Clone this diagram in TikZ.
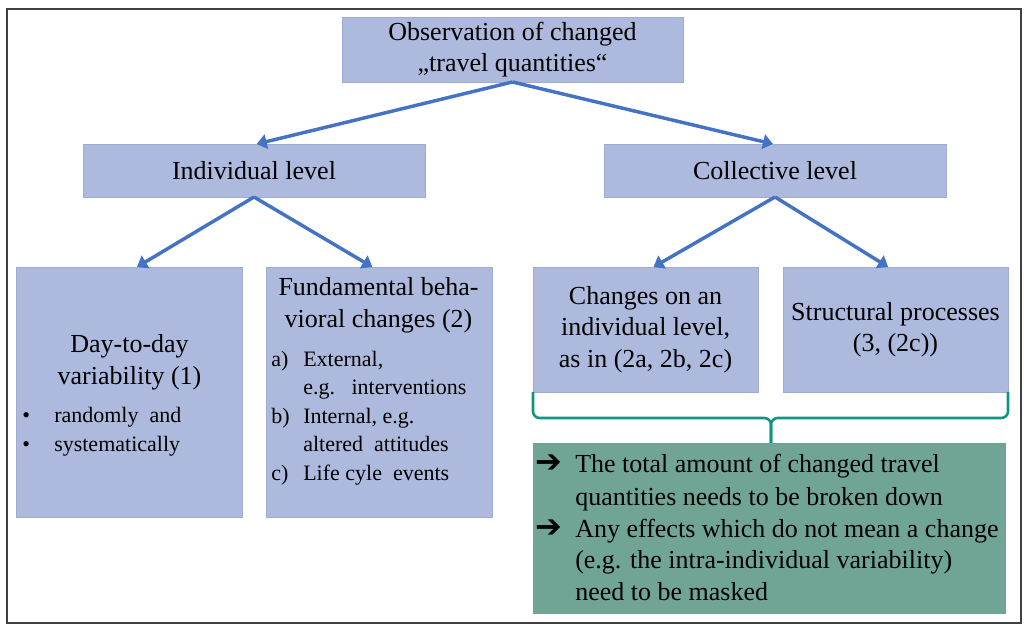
\documentclass[tikz,border=0pt]{standalone}
\usepackage{fontspec}
\setmainfont{Liberation Serif}
\newfontfamily\mainser{Liberation Serif}
\newfontfamily\arrowfnt{DejaVu Sans}
\usetikzlibrary{arrows.meta}
\definecolor{boxblue}{RGB}{173,186,222}
\definecolor{boxedge}{RGB}{158,172,210}
\definecolor{arrblue}{RGB}{68,114,196}
\definecolor{bracecol}{RGB}{16,150,128}
\definecolor{greenbox}{RGB}{112,165,150}
\begin{document}
\begin{tikzpicture}[x=0.75pt,y=-0.75pt,
  box/.style={rectangle, fill=boxblue, draw=boxedge, line width=0.6pt, inner sep=0pt, outer sep=0pt, align=center, font=\mainser\fontsize{19.5}{23.5}\selectfont},
  conn/.style={draw=arrblue, line width=2.6pt, -{Triangle[length=7.5pt,width=11pt]}},
  lst/.style={anchor=base west, inner sep=0pt, font=\mainser\fontsize{16.5}{20}\selectfont},
  hd/.style={anchor=base, inner sep=0pt, font=\mainser\fontsize{19.5}{23.5}\selectfont},
  gtxt/.style={anchor=base west, inner sep=0pt, font=\mainser\fontsize{19.5}{24}\selectfont},
  garr/.style={anchor=base west, inner sep=0pt, font=\arrowfnt\bfseries\fontsize{24}{26}\selectfont},
  bracestyle/.style={draw=bracecol, line width=1.9pt, rounded corners=5pt}
]
\useasboundingbox (0,0) rectangle (1024,630);
\draw[line width=1.2pt, draw=black!75] (7,9) rectangle (1021,623);

% boxes
\node[box, minimum width=255.75pt, minimum height=48.75pt] (top) at (512.5,49.5) {Observation of changed\\„travel quantities“};
\node[box, minimum width=256.5pt, minimum height=39.75pt] (ind) at (254,170.5) {Individual level};
\node[box, minimum width=256.5pt, minimum height=39.75pt] (col) at (775,170.5) {Collective level};
\node[box, minimum width=169.5pt, minimum height=187.5pt] (day) at (129,392) {};
\node[box, minimum width=169.5pt, minimum height=187.5pt] (fun) at (379,392) {};
\node[box, minimum width=168.75pt, minimum height=93.75pt] (chg) at (645.5,329.5) {Changes on an\\individual level,\\as in (2a, 2b, 2c)};
\node[box, minimum width=168.75pt, minimum height=93.75pt] (str) at (895.5,329.5) {Structural processes\\(3, (2c))};
\node[rectangle, fill=greenbox, inner sep=0pt, outer sep=0pt, minimum width=354.75pt, minimum height=128.25pt] (green) at (769.5,528.5) {};

% connectors
\draw[conn] (top.south) -- ([xshift=2pt]ind.north);
\draw[conn] (top.south) -- ([xshift=-1.5pt]col.north);
\draw[conn] (ind.south) -- ([xshift=6pt]day.north);
\draw[conn] (ind.south) -- ([xshift=-5pt]fun.north);
\draw[conn] (col.south) -- ([xshift=6pt]chg.north);
\draw[conn] (col.south) -- ([xshift=-5.5pt]str.north);

% day-to-day text
\node[hd] (d1) at (129.5,353) {Day-to-day};
\node[hd] (d2) at (129.5,385) {variability (1)};
\node[lst] (db1) at (22,423) {•};
\node[lst] (dt1) at (54,423) {randomly\ \ and};
\node[lst] (db2) at (22,452) {•};
\node[lst] (dt2) at (54,452) {systematically};

% fundamental text
\node[hd] (f1) at (378.5,296) {Fundamental beha-};
\node[hd] (f2) at (378.5,328) {vioral changes (2)};
\node[lst] (fa) at (271,367) {a)};
\node[lst] (fa1) at (303,367) {External,};
\node[lst] (fa2) at (303,395) {e.g.\ \ \ interventions};
\node[lst] (fb) at (271,424) {b)};
\node[lst] (fb1) at (303,424) {Internal,\ e.g.};
\node[lst] (fb2) at (303,452) {altered\ \ attitudes};
\node[lst] (fc) at (271,480) {c)};
\node[lst] (fc1) at (303,480) {Life\ cyle\ \ events};

% brace
\coordinate (bl) at (533,418);
\coordinate (bm) at (771,418);
\coordinate (br) at (1008,418);
\draw[bracestyle] (chg.south west) -- (bl) -- (bm) -- (bm |- green.north);
\draw[bracestyle] (str.south east) -- (br) -- (bm) -- (bm |- green.north);

% green text
\node[garr] (ga1) at (535,473) {➔};
\node[gtxt] (g1) at (575,473) {The total amount of changed travel};
\node[gtxt] (g2) at (575,505) {quantities needs to be broken down};
\node[garr] (ga2) at (535,537) {➔};
\node[gtxt] (g3) at (575,537) {Any effects which do not mean a change};
\node[gtxt] (g4) at (575,568) {(e.g. the intra-individual variability)};
\node[gtxt] (g5) at (575,600) {need to be masked};
\end{tikzpicture}
\end{document}
